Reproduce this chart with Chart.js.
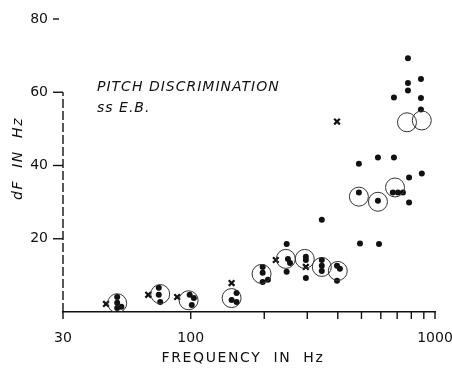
<!DOCTYPE html>
<html>
<head>
<meta charset="utf-8">
<script src="https://cdn.jsdelivr.net/npm/chart.js@4.4.1/dist/chart.umd.min.js"></script>
<style>
  html, body { margin: 0; padding: 0; background: #fff; }
  #wrap { width: 452px; height: 370px; }
</style>
</head>
<body>
<div id="wrap"><canvas id="myChart" width="452" height="370"></canvas></div>
<script>
// frequency (Hz) / dF (Hz)
var dotFreq = [50, 50, 52, 50, 74, 74, 75, 99, 103, 101, 154, 154, 147,
               197, 197, 207, 197, 247, 250, 255, 247, 296, 296, 296,
               344, 344, 344, 344, 397, 408, 397, 488, 488, 493,
               584, 584, 590, 679, 679, 672, 705, 739,
               775, 775, 775, 783, 783, 876, 876, 876, 883];
var dotDF   = [4.1, 2.5, 1.4, 1.1, 6.6, 4.7, 2.7, 4.7, 3.8, 1.9, 5.2, 2.7, 3.3,
               12.3, 10.7, 8.8, 8.2, 18.6, 14.5, 13.4, 11.0, 15.1, 14.2, 9.3,
               14.2, 12.6, 11.2, 25.2, 12.6, 11.8, 8.5, 40.5, 32.6, 18.7,
               42.2, 30.4, 18.6, 42.2, 58.6, 32.6, 32.6, 32.6,
               69.3, 62.5, 60.5, 36.7, 29.9, 63.6, 58.4, 55.3, 37.8];

var crossFreq = [45, 67, 88, 147, 223, 296, 397];
var crossDF   = [2.2, 4.7, 4.1, 7.9, 14.2, 12.3, 52];

var circleFreq = [50, 75, 98, 147, 195, 245, 293, 344, 400, 488, 584, 686, 768, 883];
var circleDF   = [2.4, 4.9, 3.2, 3.8, 10.4, 14.5, 14.5, 12.3, 11.2, 31.5, 30.1, 34, 51.8, 52.3];

var xTicks  = [30, 100, 200, 300, 400, 500, 600, 700, 800, 900, 1000];
var xLabels = [30, 100, 1000];
var yTicks  = [0, 20, 40, 60, 80];
var yAxisTop = 60;

function pairs(xs, ys) {
    var out = [];
    for (var i = 0; i < xs.length; i++) {
        out.push({x: xs[i], y: ys[i]});
    }
    return out;
}

var ink = '#111';
var fontFam = '"DejaVu Sans", sans-serif';

// tick marks, broken y axis line, axis titles and the note in the plot
var extras = {
    id: 'extras',
    afterDraw: function (chart) {
        var ctx = chart.ctx;
        var xs = chart.scales.x;
        var ys = chart.scales.y;
        var a = chart.chartArea;
        var x0 = xs.left;
        var y0 = ys.getPixelForValue(0);
        ctx.save();
        ctx.strokeStyle = ink;

        ctx.lineWidth = 1.4;
        ctx.setLineDash([9, 3]);
        ctx.beginPath();
        ctx.moveTo(x0, y0);
        ctx.lineTo(x0, ys.getPixelForValue(yAxisTop));
        ctx.stroke();
        ctx.setLineDash([]);

        ctx.lineWidth = 1.4;
        for (var i = 0; i < xTicks.length; i++) {
            var px = xs.getPixelForValue(xTicks[i]);
            ctx.beginPath();
            ctx.moveTo(px, y0);
            ctx.lineTo(px, y0 + 7);
            ctx.stroke();
        }
        for (var j = 0; j < yTicks.length; j++) {
            if (yTicks[j] === 0) continue;
            var py = ys.getPixelForValue(yTicks[j]);
            ctx.beginPath();
            ctx.moveTo(x0 - 10, py);
            ctx.lineTo(x0 - (yTicks[j] > yAxisTop ? 4 : 0), py);
            ctx.stroke();
        }

        ctx.fillStyle = ink;
        ctx.letterSpacing = '1px';
        ctx.font = 'italic 14px ' + fontFam;
        ctx.textAlign = 'left';
        ctx.textBaseline = 'alphabetic';
        ctx.fillText('PITCH DISCRIMINATION', a.left + 34, 91);
        ctx.fillText('ss E.B.', a.left + 34, 112);

        ctx.letterSpacing = '1.6px';
        ctx.font = '14px ' + fontFam;
        ctx.textAlign = 'center';
        ctx.textBaseline = 'middle';
        ctx.fillText('FREQUENCY  IN  Hz', (a.left + a.right) / 2 - 6, chart.height - 12);

        ctx.translate(18, (a.top + a.bottom) / 2 - 7);
        ctx.rotate(-Math.PI / 2);
        ctx.font = 'italic 14px ' + fontFam;
        ctx.fillText('dF  IN  Hz', 0, 0);
        ctx.restore();
    }
};

window.onload = function () {
    var ctx = document.getElementById('myChart').getContext('2d');
    var myChart = new Chart(ctx, {
        type: 'scatter',
        data: {
            datasets: [{
                data: pairs(circleFreq, circleDF),
                pointStyle: 'circle',
                pointRadius: 9.5,
                pointBorderWidth: 1,
                pointBorderColor: '#333',
                pointBackgroundColor: 'rgba(0,0,0,0)'
            }, {
                data: pairs(dotFreq, dotDF),
                pointStyle: 'circle',
                pointRadius: 3,
                pointBorderWidth: 0,
                pointBackgroundColor: ink,
                pointBorderColor: ink
            }, {
                data: pairs(crossFreq, crossDF),
                pointStyle: 'crossRot',
                pointRadius: 4,
                pointBorderWidth: 2.2,
                pointBorderColor: ink
            }]
        },
        options: {
            responsive: false,
            animation: false,
            layout: {
                padding: {left: 0, right: 17, top: 19, bottom: 0}
            },
            plugins: {
                legend: {display: false},
                tooltip: {enabled: false}
            },
            scales: {
                x: {
                    type: 'logarithmic',
                    min: 30,
                    max: 1000,
                    afterBuildTicks: function (scale) {
                        scale.ticks = xTicks.map(function (v) { return {value: v}; });
                    },
                    afterFit: function (scale) {
                        scale.height = 58;
                        scale.paddingLeft = 0;
                        scale.paddingRight = 0;
                    },
                    ticks: {
                        autoSkip: false,
                        maxRotation: 0,
                        padding: 10,
                        color: ink,
                        font: {family: fontFam, size: 14},
                        callback: function (v) {
                            return xLabels.indexOf(v) >= 0 ? String(v) : '';
                        }
                    },
                    grid: {display: false},
                    border: {display: true, color: ink, width: 1.5}
                },
                y: {
                    min: 0,
                    max: 80,
                    afterBuildTicks: function (scale) {
                        scale.ticks = yTicks.map(function (v) { return {value: v}; });
                    },
                    afterFit: function (scale) {
                        scale.width = 63;
                        scale.paddingTop = 0;
                        scale.paddingBottom = 0;
                    },
                    ticks: {
                        padding: 7,
                        color: ink,
                        font: {family: fontFam, size: 14},
                        callback: function (v) {
                            return v === 0 ? '' : String(v);
                        }
                    },
                    grid: {display: false},
                    border: {display: false}
                }
            }
        },
        plugins: [extras]
    });
};
</script>
</body>
</html>
